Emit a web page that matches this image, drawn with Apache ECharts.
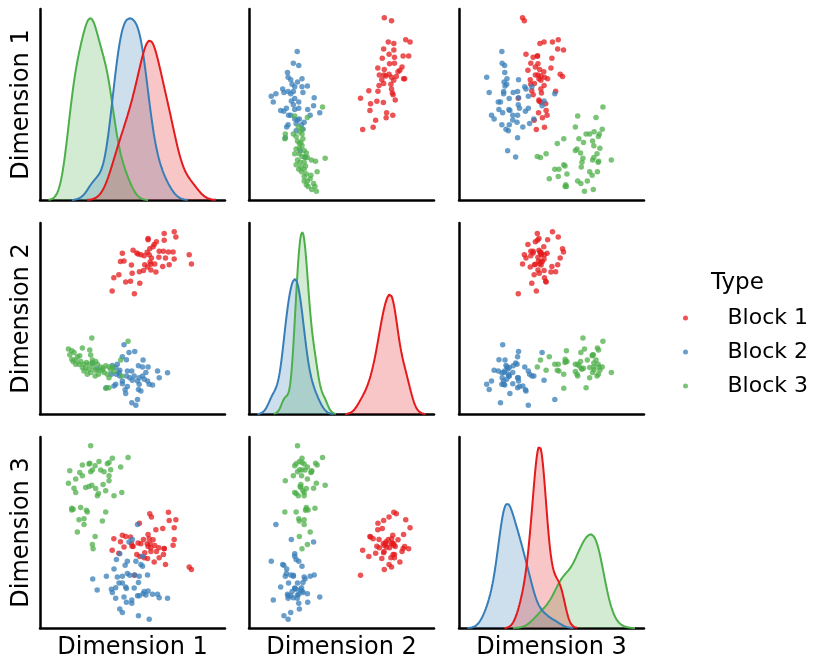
<!DOCTYPE html>
<html><head><meta charset="utf-8">
<script src="https://cdn.jsdelivr.net/npm/echarts@6/dist/echarts.min.js"></script>
<style>html,body{margin:0;padding:0;background:#fff}#c{width:830px;height:668px}</style>
</head><body><div id="c"></div>
<script>
const dimNames = ['Dimension 1', 'Dimension 2', 'Dimension 3'];
const blockNames = ['Block 1', 'Block 2', 'Block 3'];
const blockColors = ['#e41a1c', '#377eb8', '#4daf4a'];
const legendTitle = 'Type';

const block1_d1 = [38.6,39.5,42.2,43.1,44.1,45.0,45.9,48.5,49.0,49.4,49.9,50.6,51.9,52.6,53.3,53.5,54.1,55.5,55.9,56.2,57.5,57.7,58.0,58.0,58.6,58.9,59.1,59.5,59.5,59.8,60.7,61.3,61.6,62.2,62.5,63.8,64.0,65.9,66.3,66.7,66.7,67.4,69.0,69.4,71.5,72.1,72.1,73.0,80.2,81.4];
const block1_d2 = [64.4,71.2,72.8,79.6,83.9,79.9,69.1,69.5,77.8,73.6,85.5,63.0,84.1,83.6,74.3,68.4,83.1,75.0,82.7,78.0,84.5,76.8,91.6,90.9,83.1,86.2,79.4,75.2,78.2,81.5,87.3,88.5,78.4,74.2,89.9,81.8,85.0,77.1,85.0,94.2,90.6,81.5,84.6,78.0,84.6,95.1,81.0,92.3,83.1,78.4];
const block1_d3 = [40.5,46.4,38.9,44.9,48.3,42.1,47.6,47.3,44.0,42.6,42.4,27.4,38.2,44.2,54.5,37.2,43.8,46.1,36.5,39.1,43.8,36.1,42.4,48.7,46.4,59.5,43.8,41.7,39.8,57.8,45.9,34.4,42.9,51.1,39.8,41.7,36.5,51.8,38.2,41.2,41.4,33.0,60.2,56.0,43.1,52.2,46.1,56.4,31.8,30.5];

const block2_d1 = [28.1,30.5,35.5,38.2,38.7,39.6,40.5,40.5,40.9,41.4,42.3,42.7,42.7,44.1,44.1,44.1,45.0,45.6,45.9,46.3,46.3,46.8,46.8,47.7,48.1,49.2,49.2,49.5,50.5,50.8,51.4,52.3,52.3,52.8,52.8,53.2,53.2,54.1,55.0,55.0,55.3,55.9,56.8,57.7,58.0,58.6,60.4,63.1,64.0,68.5];
const block2_d2 = [27.1,24.0,14.3,21.3,25.8,15.2,24.8,16.1,21.3,26.5,22.2,23.4,20.4,30.4,16.4,17.8,36.6,13.3,11.3,28.8,20.4,23.0,15.0,32.6,19.5,23.0,6.5,18.2,20.4,33.0,5.2,17.8,8.2,25.7,13.4,19.5,16.1,12.6,25.1,20.4,28.6,18.7,22.2,17.8,25.1,16.1,15.7,23.0,19.5,22.0];
const block2_d3 = [25.5,19.7,26.9,20.2,18.5,30.7,20.9,15.5,35.6,26.5,23.4,9.9,38.7,26.9,23.4,8.0,16.1,32.6,21.3,13.4,20.6,34.7,28.3,44.7,27.4,12.9,14.5,46.1,20.8,27.6,34.7,16.8,53.9,23.7,6.3,26.9,16.8,33.0,32.1,37.3,17.8,19.0,17.1,27.6,19.2,4.5,17.6,17.5,15.7,15.5];

const block3_d1 = [15.0,15.7,16.8,16.8,17.5,18.0,18.9,18.9,19.8,20.7,21.1,21.6,22.5,22.5,23.4,23.4,24.3,24.7,25.2,26.1,26.1,26.5,27.0,27.0,27.6,27.9,27.9,28.3,29.4,29.4,29.7,30.6,31.2,31.5,32.4,33.3,33.7,34.2,35.1,35.1,36.0,36.9,36.9,36.9,37.8,38.7,39.6,43.2,43.8,47.2];
const block3_d2 = [34.4,31.4,33.5,29.1,27.9,32.6,28.6,26.5,30.4,26.5,30.9,27.9,34.9,24.8,26.5,23.0,24.4,27.4,21.3,26.5,23.9,33.9,31.2,22.2,40.1,28.6,27.1,25.1,23.4,20.4,27.9,26.5,21.3,23.4,25.1,23.4,24.4,22.2,25.7,14.0,21.3,25.1,19.5,14.3,23.6,25.1,22.7,28.6,20.4,38.4];
const block3_d3 = [75.4,81.8,62.3,61.4,61.8,72.8,77.5,70.5,49.9,56.4,81.0,62.7,84.8,79.2,53.9,56.9,73.1,61.3,60.4,85.3,73.6,85.7,81.3,94.9,74.3,43.5,82.2,41.2,47.6,84.5,72.6,68.8,70.0,86.6,82.2,55.7,74.7,81.3,71.4,60.4,85.5,86.2,79.2,76.6,82.4,88.3,68.8,83.8,70.5,88.8];

const blocks = [
  [block1_d1, block1_d2, block1_d3],
  [block2_d1, block2_d2, block2_d3],
  [block3_d1, block3_d2, block3_d3]
];

// layout
const colLeft = [40, 249, 459];
const rowTop = [9, 223, 437];
const cellW = 185, cellH = 191;
const FONT = 'DejaVu Sans';

// Gaussian KDE (Scott's rule, cut = 3) like seaborn
function kdeInfo(vals) {
  const n = vals.length;
  const mean = vals.reduce((a, b) => a + b, 0) / n;
  const sd = Math.sqrt(vals.reduce((a, b) => a + (b - mean) * (b - mean), 0) / (n - 1));
  const bw = sd * Math.pow(n, -0.2);
  const lo = Math.min(...vals) - 3 * bw, hi = Math.max(...vals) + 3 * bw;
  return { bw, lo, hi };
}
function kdeCurve(vals, weight) {
  const { bw, lo, hi } = kdeInfo(vals);
  const n = vals.length, pts = [], G = 200;
  const norm = 1 / (n * bw * Math.sqrt(2 * Math.PI));
  for (let g = 0; g < G; g++) {
    const x = lo + (hi - lo) * g / (G - 1);
    let s = 0;
    for (const v of vals) { const z = (x - v) / bw; s += Math.exp(-0.5 * z * z); }
    pts.push([x, s * norm * weight]);
  }
  return pts;
}

const N = blocks.reduce((a, b) => a + b[0].length, 0);
const curves = [0, 1, 2].map(d => blocks.map(b => kdeCurve(b[d], b[d].length / N)));

// axis limits (matplotlib-like 5% margins)
const colLim = [0, 1, 2].map(d => {
  let lo = Infinity, hi = -Infinity;
  blocks.forEach(b => { const k = kdeInfo(b[d]); lo = Math.min(lo, k.lo); hi = Math.max(hi, k.hi); });
  const p = 0.05 * (hi - lo);
  return [lo - p, hi + p];
});
const rowLim = [0, 1, 2].map(d => {
  let lo = Infinity, hi = -Infinity;
  blocks.forEach(b => { lo = Math.min(lo, ...b[d]); hi = Math.max(hi, ...b[d]); });
  const p = 0.05 * (hi - lo);
  return [lo - p, hi + p];
});
const diagMax = curves.map(cs => 1.05 * Math.max(...cs.map(c => Math.max(...c.map(p => p[1])))));

const axisLine = { show: true, onZero: false, lineStyle: { color: '#000', width: 2.5 } };
const grids = [], xAxes = [], yAxes = [], series = [];

for (let i = 0; i < 3; i++) {
  for (let j = 0; j < 3; j++) {
    const g = i * 3 + j;
    grids.push({ left: colLeft[j], top: rowTop[i], width: cellW, height: cellH });
    xAxes.push({
      type: 'value', gridIndex: g, min: colLim[j][0], max: colLim[j][1],
      axisLine, axisTick: { show: false }, axisLabel: { show: false }, splitLine: { show: false },
      name: i === 2 ? dimNames[j] : '', nameLocation: 'middle', nameGap: 8,
      nameTextStyle: { fontSize: 24, fontFamily: FONT, color: '#000', verticalAlign: 'top' }
    });
    yAxes.push({
      type: 'value', gridIndex: g,
      min: i === j ? 0 : rowLim[i][0], max: i === j ? diagMax[i] : rowLim[i][1],
      axisLine, axisTick: { show: false }, axisLabel: { show: false }, splitLine: { show: false },
      name: j === 0 ? dimNames[i] : '', nameLocation: 'middle', nameGap: 6,
      nameTextStyle: { fontSize: 24, fontFamily: FONT, color: '#000', verticalAlign: 'bottom' }
    });
    if (i === j) {
      for (let h = 2; h >= 0; h--) {
        series.push({
          type: 'line', name: blockNames[h] + ' density', xAxisIndex: g, yAxisIndex: g,
          data: curves[i][h], showSymbol: false, symbol: 'none', silent: true,
          lineStyle: { color: blockColors[h], width: 2 },
          itemStyle: { color: blockColors[h] },
          areaStyle: { color: blockColors[h], opacity: 0.25 }
        });
      }
    } else {
      for (let h = 0; h < 3; h++) {
        const b = blocks[h];
        series.push({
          type: 'scatter', name: blockNames[h], xAxisIndex: g, yAxisIndex: g,
          data: b[j].map((x, k) => [x, b[i][k]]),
          symbolSize: 5.5, silent: true,
          itemStyle: { color: blockColors[h], opacity: 0.75 }
        });
      }
    }
  }
}

const chart = echarts.init(document.getElementById('c'), null, { renderer: 'canvas' });
chart.setOption({
  animation: false,
  backgroundColor: '#fff',
  textStyle: { fontFamily: FONT },
  title: {
    text: legendTitle, left: 706, top: 267,
    textStyle: { fontSize: 23, fontWeight: 'normal', fontFamily: FONT, color: '#000' }
  },
  legend: {
    data: blockNames.map(n => ({ name: n, icon: 'circle' })),
    orient: 'vertical', left: 678, top: 302,
    itemWidth: 74, itemHeight: 5, itemGap: 12, symbolKeepAspect: true,
    selectedMode: false,
    textStyle: { fontSize: 22, fontFamily: FONT, color: '#000' }
  },
  grid: grids, xAxis: xAxes, yAxis: yAxes, series
});
</script></body></html>
